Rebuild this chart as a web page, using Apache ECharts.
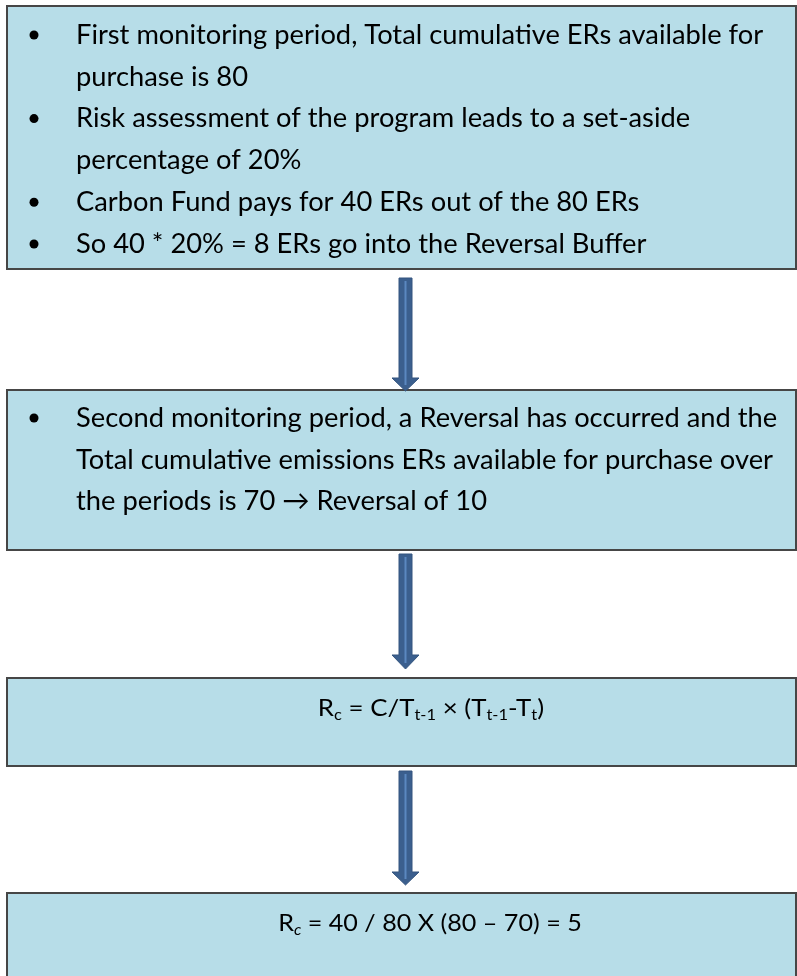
<!DOCTYPE html>
<html>
<head>
<meta charset="utf-8">
<script src="https://cdn.jsdelivr.net/npm/echarts@6/dist/echarts.min.js"></script>
<style>
  html, body { margin: 0; padding: 0; background: #fff; }
  #main { width: 797px; height: 976px; }
</style>
</head>
<body>
<div id="main"></div>
<script>
// text content of the flow steps
const step1Bullets = [
    ['First monitoring period, Total cumulative ERs available for', 'purchase is 80'],
    ['Risk assessment of the program leads to a set-aside', 'percentage of 20%'],
    ['Carbon Fund pays for 40 ERs out of the 80 ERs'],
    ['So 40 * 20% = 8 ERs go into the Reversal Buffer']
];
const step2Bullets = [
    ['Second monitoring period, a Reversal has occurred and the',
     'Total cumulative emissions ERs available for purchase over',
     'the periods is 70 \u2192 Reversal of 10']
];
// formulas, {s|..} = subscript
const step3Formula = '{b|R}{s|c}{b| = C/T}{s|t-1}{b| \u00d7 (T}{s|t-1}{b|-T}{s|t}{b|)}';
const step4Formula = '{b|R}{si|c}{b| = 40 / 80 X (80 \u2013 70) = 5}';

// layout (pixels)
const boxLeft = 7, boxRight = 796;
const boxes = [
    { top: 6, bottom: 269 },
    { top: 390, bottom: 550 },
    { top: 678, bottom: 766 },
    { top: 893, bottom: 1000 }
];
const arrows = [
    { top: 278, headTop: 378, tip: 391 },
    { top: 554, headTop: 655, tip: 669 },
    { top: 771, headTop: 872, tip: 885 }
];
const arrowX = 405.5;
const lineGap = 41.8;

const chart = echarts.init(document.getElementById('main'));

const textFont = 'Lato, "Open Sans", sans-serif';

function boxRect(b) {
    return {
        type: 'rect',
        shape: { x: boxLeft, y: b.top, width: boxRight - boxLeft, height: b.bottom - b.top },
        style: { fill: '#b7dde8', stroke: '#464646', lineWidth: 2 }
    };
}

function arrowShape(a) {
    const sw = 6.5, hw = 13.5;
    return [{
        type: 'polygon',
        shape: {
            points: [
                [arrowX - sw, a.top], [arrowX + sw, a.top], [arrowX + sw, a.headTop],
                [arrowX + hw, a.headTop], [arrowX, a.tip], [arrowX - hw, a.headTop],
                [arrowX - sw, a.headTop]
            ]
        },
        style: { fill: '#3b5f8e', stroke: '#34557f', lineWidth: 1 }
    }, {
        type: 'line',
        shape: { x1: arrowX, y1: a.top + 3, x2: arrowX, y2: a.tip - 6 },
        style: { stroke: '#5b88c0', lineWidth: 2 }
    }];
}

function bulletBlock(list, firstMid) {
    const out = [];
    let y = firstMid;
    list.forEach(lines => {
        out.push({
            type: 'circle',
            shape: { cx: 34, cy: y, r: 4.5 },
            style: { fill: '#000' }
        });
        lines.forEach(line => {
            out.push({
                type: 'text',
                style: {
                    x: 76, y: y, text: line, fill: '#000',
                    font: '27.3px ' + textFont, align: 'left', verticalAlign: 'middle'
                }
            });
            y += lineGap;
        });
    });
    return out;
}

// stretch the formula text horizontally around its centre
function formula(text, cx, cy, sx) {
    return {
        type: 'text',
        x: cx, y: cy, scaleX: sx,
        style: {
            x: 0, y: 0, text: text, align: 'center', verticalAlign: 'middle',
            fill: '#000',
            rich: {
                b: { fontFamily: textFont, fontSize: 23.5, lineHeight: 30, fill: '#000' },
                s: { fontFamily: textFont, fontSize: 15, lineHeight: 20, verticalAlign: 'bottom', fill: '#000' },
                si: { fontFamily: textFont, fontSize: 15, fontStyle: 'italic', lineHeight: 20, verticalAlign: 'bottom', fill: '#000' }
            }
        }
    };
}

let elements = [];
boxes.forEach(b => elements.push(boxRect(b)));
arrows.forEach(a => { elements = elements.concat(arrowShape(a)); });
elements = elements.concat(bulletBlock(step1Bullets, 35));
elements = elements.concat(bulletBlock(step2Bullets, 418));
elements.push(formula(step3Formula, 431, 708, 1.1));
elements.push(formula(step4Formula, 430, 923, 1.07));

option = {
    animation: false,
    graphic: { elements: elements }
};

chart.setOption(option);
</script>
</body>
</html>
